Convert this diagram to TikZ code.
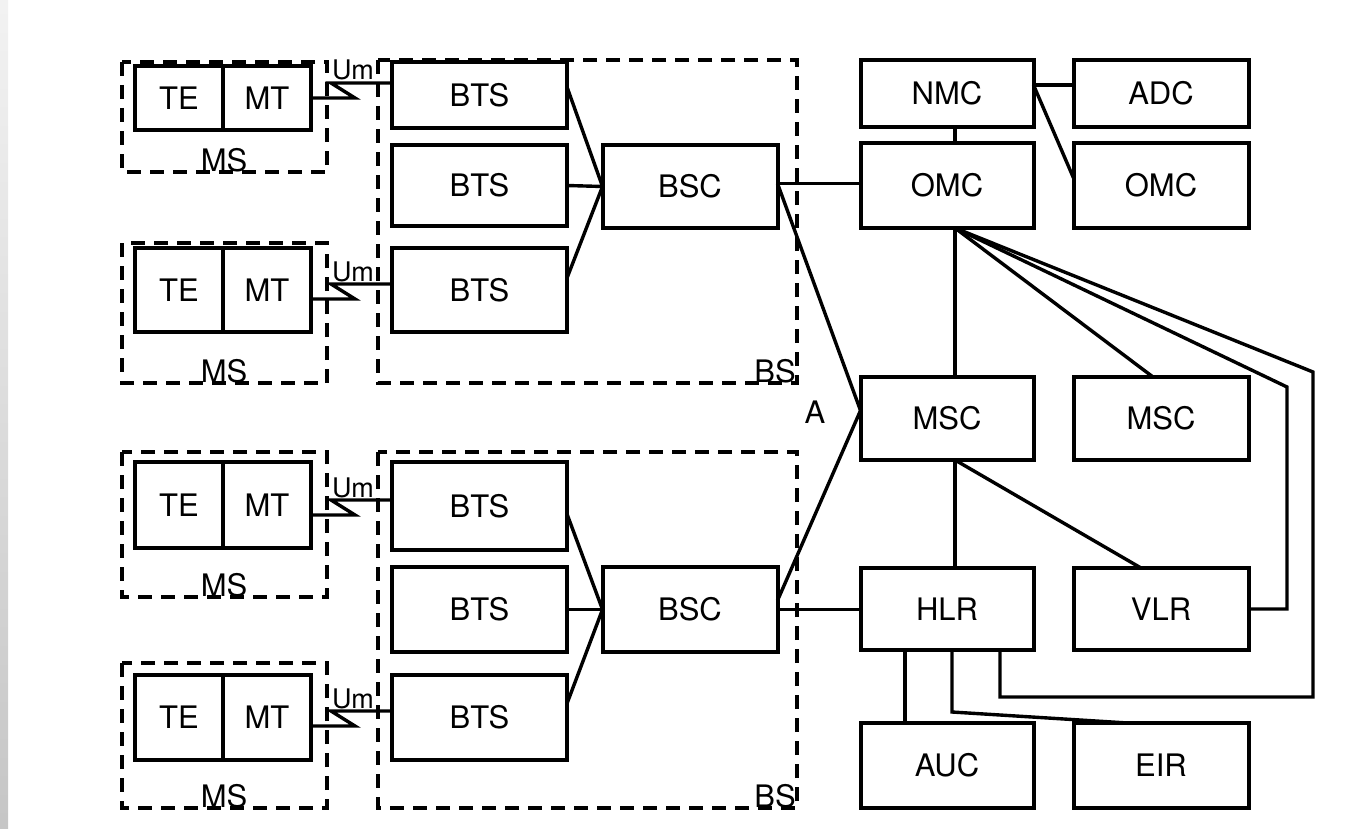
\documentclass[tikz,border=0pt]{standalone}
\usepackage{fontspec}
\newfontfamily\gsmfont{TeX Gyre Heros}
\usetikzlibrary{calc,positioning}
\tikzset{
  netbox/.style={draw=black, line width=2pt, align=center, inner sep=0pt, outer sep=0pt,
    font=\gsmfont\fontsize{15.5}{17}\selectfont},
  term/.style={netbox, minimum width=44pt, minimum height=42pt},
  btsbox/.style={netbox, minimum width=87.5pt, minimum height=42.5pt},
  corebox/.style={netbox, minimum width=86.5pt, minimum height=42pt},
  grp/.style={draw=black, line width=1.9pt, dash pattern=on 7pt off 4.5pt},
  lnk/.style={draw=black, line width=1.7pt},
  tag/.style={font=\gsmfont\fontsize{15.5}{17}\selectfont, inner sep=0pt},
  umtag/.style={font=\gsmfont\fontsize{13.5}{15}\selectfont, inner sep=0pt}
}

\begin{document}
\begin{tikzpicture}[x=0.5pt, y=-0.5pt]
  \useasboundingbox (0,0) rectangle (1364,829);
  \shade[top color=gray!10, bottom color=gray!45] (0,0) rectangle (8,829);

  % mobile stations
  \node[term, minimum height=32pt] (te1) at (179,98) {TE};
  \node[term, minimum height=32pt, right=0pt of te1] (mt1) {MT};
  \node[term] (te2) at (179,290) {TE};
  \node[term, right=0pt of te2] (mt2) {MT};
  \node[term, minimum height=43pt] (te3) at (179,505) {TE};
  \node[term, minimum height=43pt, right=0pt of te3] (mt3) {MT};
  \node[term, minimum height=42.5pt] (te4) at (179,717) {TE};
  \node[term, minimum height=42.5pt, right=0pt of te4] (mt4) {MT};

  \draw[grp] (122,62) rectangle (327,172);
  \draw[grp] (122,243) rectangle (327,383);
  \draw[grp] (122,452) rectangle (327,597);
  \draw[grp] (122,663) rectangle (327,808);
  \node[tag, anchor=base] (ms1) at (224,171) {MS};
  \node[tag, anchor=base] (ms2) at (224,382) {MS};
  \node[tag, anchor=base] (ms3) at (224,596) {MS};
  \node[tag, anchor=base] (ms4) at (224,807) {MS};

  % base stations
  \node[btsbox, minimum height=33pt] (btsa1) at (479.5,95) {BTS};
  \node[btsbox, minimum height=40.5pt] (btsa2) at (479.5,185.5) {BTS};
  \node[btsbox, minimum height=42pt] (btsa3) at (479.5,290) {BTS};
  \node[btsbox, minimum height=41.5pt] (bsca) at (690,186.5) {BSC};
  \node[btsbox, minimum height=44pt] (btsb1) at (479.5,506) {BTS};
  \node[btsbox] (btsb2) at (479.5,609.5) {BTS};
  \node[btsbox] (btsb3) at (479.5,717.5) {BTS};
  \node[btsbox] (bscb) at (690,609.5) {BSC};

  \draw[grp] (378,60) rectangle (797,383);
  \draw[grp] (378,452) rectangle (797,808);
  \node[tag, anchor=base] (bs1) at (775,382) {BS};
  \node[tag, anchor=base] (bs2) at (775,807) {BS};

  \draw[lnk] ($(btsa1.east)+(0,-8)$) -- (bsca.west);
  \draw[lnk] (btsa2.east) -- (bsca.west);
  \draw[lnk] ($(btsa3.east)+(0,-12)$) -- (bsca.west);
  \draw[lnk] ($(btsb1.east)+(0,8)$) -- (bscb.west);
  \draw[lnk] (btsb2.east) -- (bscb.west);
  \draw[lnk] ($(btsb3.east)+(0,-14)$) -- (bscb.west);

  % radio interface
  \foreach \m/\b/\yu/\yl in {mt1/btsa1/83/98, mt2/btsa3/284/299, mt3/btsb1/500/515, mt4/btsb3/711/726} {
    \draw[lnk] (\m.east |- 0,\yl) -- ++(44,0) -- ++(-24,-15) -- (\b.west |- 0,\yu);
    \node[umtag, anchor=base] (um\m) at (353,\yu-3) {Um};
  }

  % switching and management
  \node[corebox, minimum height=33.5pt] (nmc) at (947,93.5) {NMC};
  \node[corebox, minimum width=87.5pt, minimum height=33.5pt, right=20pt of nmc] (adc) {ADC};
  \node[corebox, minimum height=42.5pt] (omc) at (947,185.5) {OMC};
  \node[corebox, minimum width=87.5pt, minimum height=42.5pt, right=20pt of omc] (omc2) {OMC};
  \node[corebox, minimum height=41.5pt] (msc) at (947,418.5) {MSC};
  \node[corebox, minimum width=87.5pt, minimum height=41.5pt, right=20pt of msc] (msc2) {MSC};
  \node[corebox, minimum height=41pt] (hlr) at (947,609) {HLR};
  \node[corebox, minimum width=87.5pt, minimum height=41pt, right=20pt of hlr] (vlr) {VLR};
  \node[corebox, minimum height=42.5pt] (auc) at (947,765.5) {AUC};
  \node[corebox, minimum width=87.5pt, minimum height=42.5pt, right=20pt of auc] (eir) {EIR};

  \coordinate (ohub) at ($(omc.south)+(8,0)$);
  \coordinate (mhub) at ($(msc.south)+(8,0)$);
  \coordinate (nk) at ($(nmc.east)+(0,-8.5)$);
  \coordinate (bk) at ($(bsca.east)+(0,-3)$);
  \coordinate (vbend) at (1287,387);
  \coordinate (hbend) at (1313,372);
  \coordinate (hloop) at (1313,697);
  \coordinate (ekink) at ($(hlr.south)+(5,62)$);

  \draw[lnk] (nmc.south -| ohub) -- (omc.north -| ohub);
  \draw[lnk] (nk) -- (nk -| adc.west);
  \draw[lnk] (nk) -- ($(omc2.west)+(0,-7.5)$);
  \draw[lnk] (bk) -- (bk -| omc.west);
  \draw[lnk] (bk) -- ($(msc.west)+(0,-8)$);
  \draw[lnk] (bscb.east) -- (bscb.east -| hlr.west);
  \draw[lnk] ($(bscb.east)+(0,-9)$) -- ($(msc.west)+(0,-8)$);
  \node[tag] (alab) at (815,412) {A};

  \draw[lnk] (ohub) -- (ohub |- msc.north);
  \draw[lnk] (ohub) -- ($(msc2.north)+(-8,0)$);
  \draw[lnk] (ohub) -- (vbend) |- (vlr.east);
  \draw[lnk] (ohub) -- (hbend) -- (hloop) -| ($(hlr.south)+(53,0)$);
  \draw[lnk] (mhub) -- (mhub |- hlr.north);
  \draw[lnk] (mhub) -- ($(vlr.north)+(-20,0)$);
  \draw[lnk] ($(hlr.south)+(-42,0)$) -- ($(auc.north)+(-42,0)$);
  \draw[lnk] ($(hlr.south)+(5,0)$) -- (ekink) -- ($(eir.north)+(-33,0)$);
\end{tikzpicture}
\end{document}
